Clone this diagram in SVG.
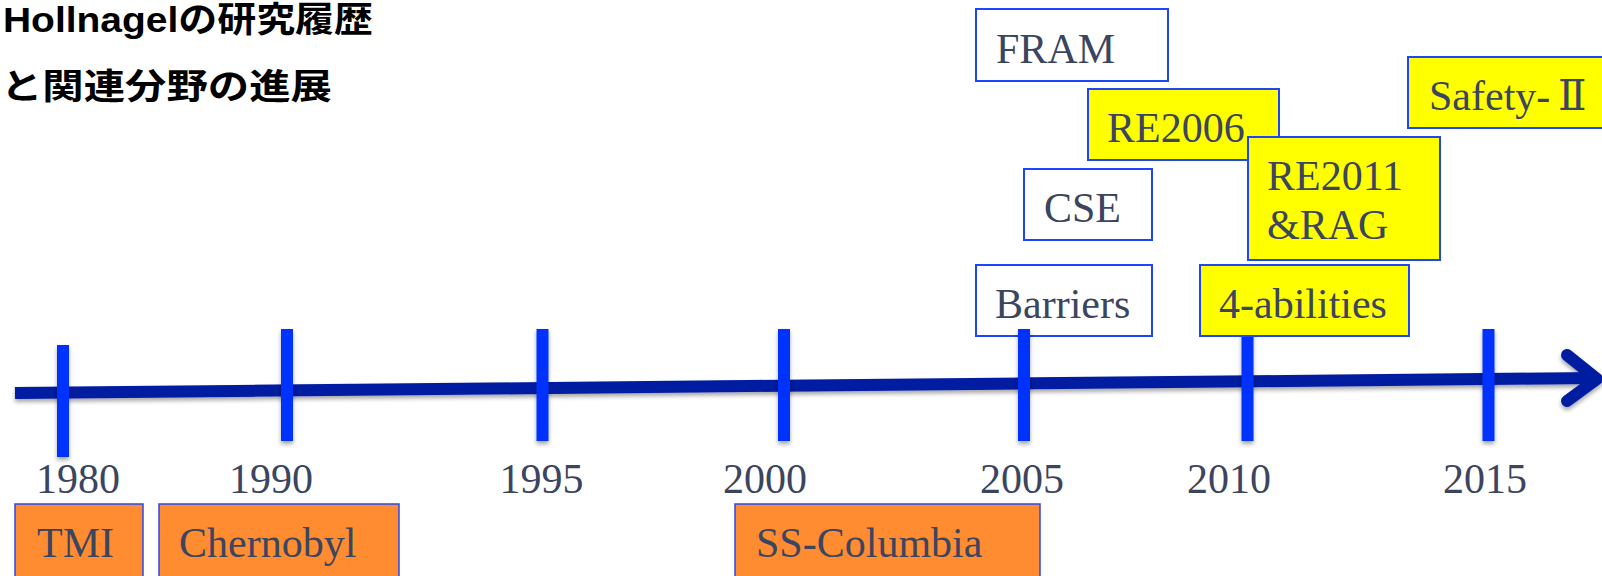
<svg xmlns="http://www.w3.org/2000/svg" width="1602" height="576" viewBox="0 0 1602 576">
<defs>
<filter id="sh" x="-20%" y="-20%" width="140%" height="160%">
<feDropShadow dx="0" dy="3" stdDeviation="2" flood-color="#000" flood-opacity="0.35"/>
</filter>
</defs>
<style>
.title{font-family:"Liberation Sans","Noto Sans CJK JP",sans-serif;font-weight:bold;font-size:35px;fill:#000}
.lbl{font-family:"Liberation Serif","DejaVu Serif","Noto Sans CJK JP",serif;font-size:42px;fill:#3B4560}
.yr{text-anchor:middle}
.wbox{fill:#FFFFFF;stroke:#1F45FC;stroke-width:2}
.ybox{fill:#FFFF00;stroke:#1F45FC;stroke-width:2}
.obox{fill:#FF8C30;stroke:#2A48F0;stroke-width:1.5}
.tick{fill:#0033FF}
.axis{stroke:#001BA0;stroke-width:12;fill:none;stroke-linecap:butt}
.head{stroke:#001BA0;stroke-width:12;fill:none;stroke-linecap:round;stroke-linejoin:round}
</style>
<g id="title">
<text class="title" x="3" y="32" textLength="370" lengthAdjust="spacingAndGlyphs">Hollnagelの研究履歴</text>
<text class="title" x="1" y="99" textLength="331" lengthAdjust="spacingAndGlyphs">と関連分野の進展</text>
</g>
<g id="connectors">
<g filter="url(#sh)">
<line class="axis" x1="15" y1="393" x2="1596" y2="378"/>
<polyline class="head" points="1567,355 1597,379 1567,401"/>
</g>
</g>
<g id="node-barriers">
<rect class="wbox" x="976" y="265" width="176" height="71"/>
<text class="lbl" x="995" y="318">Barriers</text>
</g>
<g id="ticks" filter="url(#sh)">
<rect class="tick" x="57" y="345" width="12" height="112"/>
<rect class="tick" x="281" y="329" width="12" height="112"/>
<rect class="tick" x="536.5" y="329" width="12" height="112"/>
<rect class="tick" x="778" y="329" width="12" height="112"/>
<rect class="tick" x="1018" y="329" width="12" height="112"/>
<rect class="tick" x="1241.5" y="329" width="12" height="112"/>
<rect class="tick" x="1482.5" y="329" width="12" height="112"/>
</g>
<g id="years">
<text class="lbl yr" x="78" y="493">1980</text>
<text class="lbl yr" x="271" y="493">1990</text>
<text class="lbl yr" x="541.5" y="493">1995</text>
<text class="lbl yr" x="765" y="493">2000</text>
<text class="lbl yr" x="1022" y="493">2005</text>
<text class="lbl yr" x="1229" y="493">2010</text>
<text class="lbl yr" x="1485" y="493">2015</text>
</g>
<g id="node-fram">
<rect class="wbox" x="976" y="9" width="192" height="72"/>
<text class="lbl" x="996" y="63">FRAM</text>
</g>
<g id="node-re2006">
<rect class="ybox" x="1088" y="89" width="191" height="71"/>
<text class="lbl" x="1107" y="142">RE2006</text>
</g>
<g id="node-safety2">
<rect class="ybox" x="1408" y="57" width="200" height="71"/>
<text class="lbl" x="1429" y="110">Safety-<tspan x="1558">Ⅱ</tspan></text>
</g>
<g id="node-re2011">
<rect class="ybox" x="1248" y="137" width="192" height="123"/>
<text class="lbl" x="1267" y="190">RE2011</text>
<text class="lbl" x="1267" y="239">&amp;RAG</text>
</g>
<g id="node-cse">
<rect class="wbox" x="1024" y="169" width="128" height="71"/>
<text class="lbl" x="1044" y="222">CSE</text>
</g>
<g id="node-4abilities">
<rect class="ybox" x="1200" y="265" width="209" height="71"/>
<text class="lbl" x="1219" y="318">4-abilities</text>
</g>
<g id="node-tmi">
<rect class="obox" x="15" y="504" width="128" height="80"/>
<text class="lbl" x="37" y="557">TMI</text>
</g>
<g id="node-chernobyl">
<rect class="obox" x="159" y="504" width="240" height="80"/>
<text class="lbl" x="179" y="557">Chernobyl</text>
</g>
<g id="node-sscolumbia">
<rect class="obox" x="735" y="504" width="305" height="80"/>
<text class="lbl" x="756" y="557">SS-Columbia</text>
</g>
</svg>
